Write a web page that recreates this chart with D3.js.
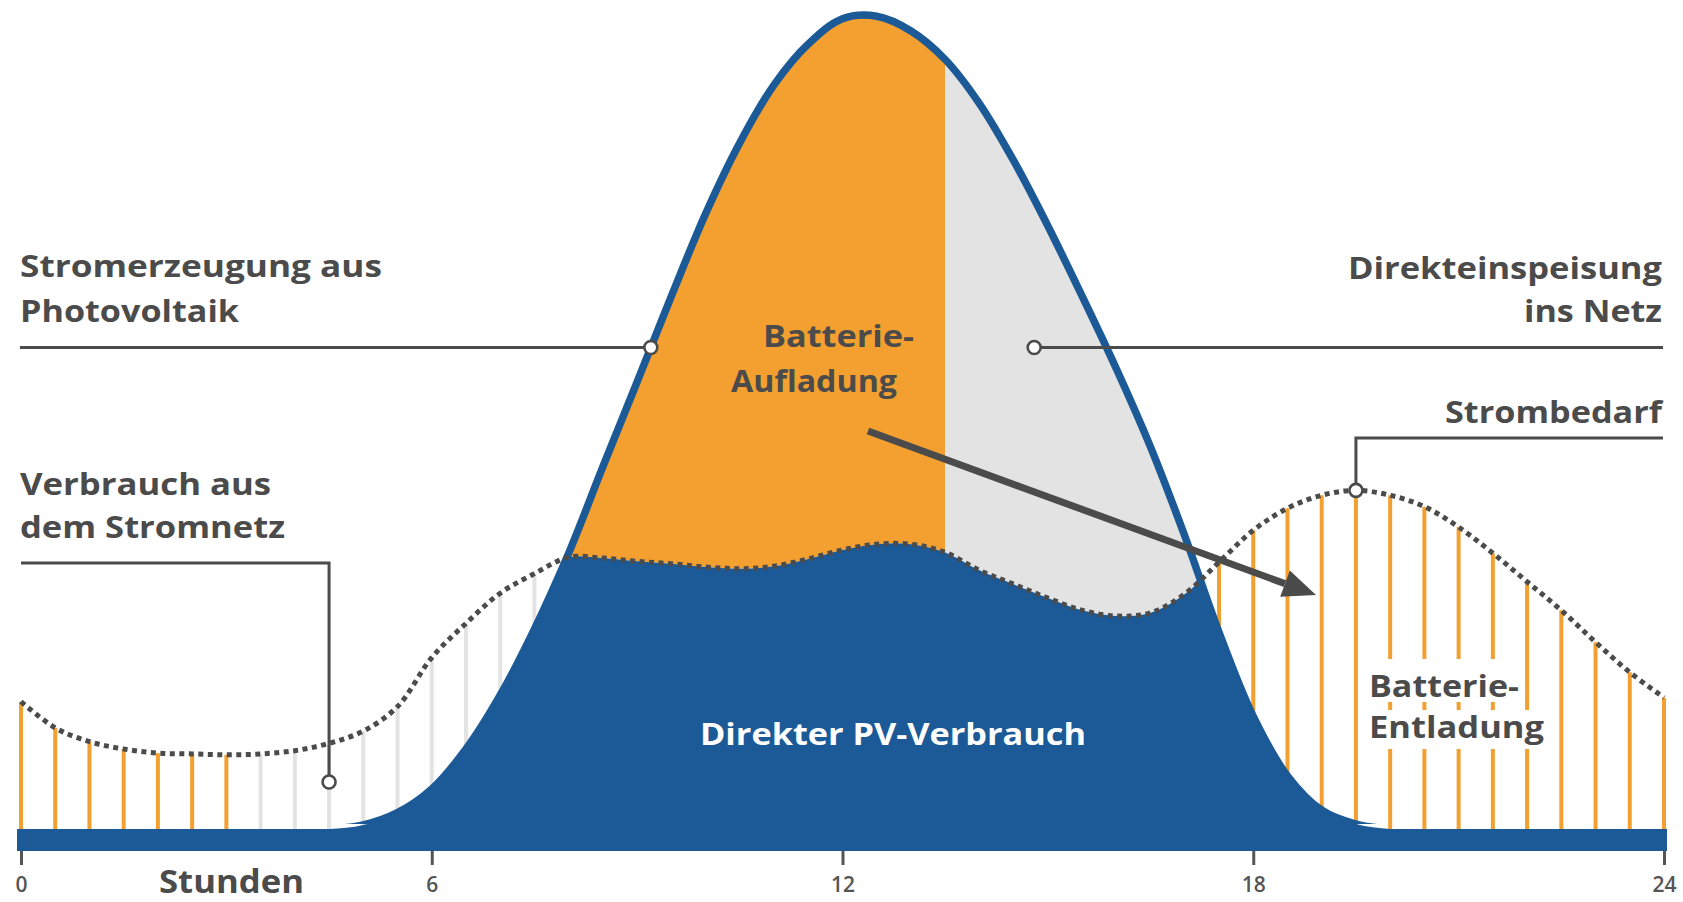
<!DOCTYPE html>
<html>
<head>
<meta charset="utf-8">
<script src="https://cdn.jsdelivr.net/npm/d3@7"></script>
<style>
  html, body { margin: 0; padding: 0; background: #ffffff; }
  svg { display: block; }
  text { font-family: "Open Sans", "Noto Sans", sans-serif; }
</style>
</head>
<body>
<svg id="chart" width="1683" height="902"></svg>
<script>
// Tagesverlauf in halben Stunden (0 bis 24 Uhr)
const hours = d3.range(0, 24.001, 0.5);

// Strombedarf des Haushalts (kW)
const demand = [
  1.56, 1.24, 1.07, 0.98, 0.93, 0.92, 0.91, 0.92, 0.96, 1.05,
  1.20, 1.50, 2.10, 2.52, 2.89, 3.13, 3.33, 3.32, 3.28, 3.25,
  3.21, 3.19, 3.22, 3.31, 3.42, 3.49, 3.49, 3.39, 3.17, 3.00,
  2.83, 2.68, 2.61, 2.65, 2.88, 3.27, 3.66, 3.93, 4.09, 4.15,
  4.09, 3.95, 3.70, 3.38, 3.03, 2.68, 2.29, 1.92, 1.61
];

// Stromerzeugung der Photovoltaikanlage (kW)
const pvGeneration = [
  0, 0, 0, 0, 0, 0, 0, 0, 0, 0,
  0.05, 0.20, 0.49, 0.98, 1.64, 2.45, 3.38, 4.44, 5.48, 6.53,
  7.54, 8.41, 9.12, 9.62, 9.93, 9.96, 9.78, 9.43, 8.89, 8.19,
  7.39, 6.53, 5.64, 4.68, 3.59, 2.41, 1.38, 0.65, 0.23, 0.06,
  0, 0, 0, 0, 0, 0, 0, 0, 0
];

const tickHours = [0, 6, 12, 18, 24];
const axisTitle = "Stunden";

// Batterie: Entladung nachts bis 3 Uhr und abends ab 17:30 Uhr
const dischargeUntil = 3;
const dischargeFrom = 17.5;
// Ab 13:30 Uhr ist die Batterie voll, der Überschuss geht ins Netz
const batteryFullHour = 13.5;

const rows = hours.map((h, i) => ({ h, dem: demand[i], pv: pvGeneration[i] }));

const COLORS = {
  blue: "#1b5a97",
  orange: "#f3a030",
  grid: "#e3e3e3",
  ink: "#4b4b4b",
  white: "#ffffff"
};

const W = 1683, H = 902;
const svg = d3.select("#chart");

const x = d3.scaleLinear().domain([0, 24]).range([21, 1664]);
const y = d3.scaleLinear().domain([0, 10]).range([829, 13]);
const curve = d3.curveCatmullRom.alpha(0.5);

const defs = svg.append("defs");

// Flächen unter bzw. über der Bedarfskurve als Schnittmasken
const belowDemand = d3.area().x(d => x(d.h)).y0(H).y1(d => y(d.dem)).curve(curve);
const aboveDemand = d3.area().x(d => x(d.h)).y0(0).y1(d => y(d.dem)).curve(curve);
defs.append("clipPath").attr("id", "clip-below").append("path").attr("d", belowDemand(rows));
defs.append("clipPath").attr("id", "clip-above").append("path").attr("d", aboveDemand(rows));
defs.append("clipPath").attr("id", "clip-charge").append("rect")
  .attr("x", 0).attr("y", 0).attr("width", x(batteryFullHour)).attr("height", H);
defs.append("clipPath").attr("id", "clip-feed").append("rect")
  .attr("x", x(batteryFullHour)).attr("y", 0).attr("width", W - x(batteryFullHour)).attr("height", H);
// Kontur nur oberhalb der Grundlinie
defs.append("clipPath").attr("id", "clip-raised").append("rect")
  .attr("x", 0).attr("y", 0).attr("width", W).attr("height", y(0) - 5);

// Senkrechte Linien bis zur Bedarfskurve
const stems = svg.append("g").attr("class", "stems");
stems.selectAll("line").data(rows).join("line")
  .attr("x1", d => x(d.h)).attr("x2", d => x(d.h))
  .attr("y1", y(0)).attr("y2", d => y(d.dem))
  .attr("stroke", d => (d.h <= dischargeUntil || d.h >= dischargeFrom) ? COLORS.orange : COLORS.grid)
  .attr("stroke-width", 4);

// Freiflächen hinter der Beschriftung der Batterie-Entladung
const dischargeLabel = svg.append("g");

const pvArea = d3.area().x(d => x(d.h)).y0(y(0)).y1(d => y(d.pv)).curve(curve);

// Überschuss: Batterie-Aufladung (orange) und Netzeinspeisung (grau)
const surplus = svg.append("g").attr("clip-path", "url(#clip-above)");
surplus.append("path").attr("d", pvArea(rows)).attr("fill", COLORS.orange)
  .attr("clip-path", "url(#clip-charge)");
surplus.append("path").attr("d", pvArea(rows)).attr("fill", COLORS.grid)
  .attr("clip-path", "url(#clip-feed)");

// Direkter PV-Verbrauch
svg.append("path").attr("d", pvArea(rows)).attr("fill", COLORS.blue)
  .attr("clip-path", "url(#clip-below)");

// PV-Erzeugungskurve
const pvLine = d3.line()
  .defined((d, i) => d.pv > 0 || (pvGeneration[i - 1] || 0) > 0 || (pvGeneration[i + 1] || 0) > 0)
  .x(d => x(d.h)).y(d => y(d.pv)).curve(curve);
const pvPath = svg.append("g").attr("clip-path", "url(#clip-raised)")
  .append("path").attr("d", pvLine(rows))
  .attr("fill", "none").attr("stroke", COLORS.blue).attr("stroke-width", 7.5)
  .attr("stroke-linejoin", "round");

// Bedarfskurve (gepunktet)
const demandLine = d3.line().x(d => x(d.h)).y(d => y(d.dem)).curve(curve);
const demandPath = svg.append("path").attr("d", demandLine(rows))
  .attr("fill", "none").attr("stroke", COLORS.ink).attr("stroke-width", 5)
  .attr("stroke-dasharray", "5 4.5");

// Grundlinie
svg.append("rect")
  .attr("x", x(0) - 4).attr("y", y(0))
  .attr("width", x(24) - x(0) + 7).attr("height", 22)
  .attr("fill", COLORS.blue);

// Zeitachse
const axis = svg.append("g").attr("transform", `translate(0,${y(0) + 22})`)
  .call(d3.axisBottom(x).tickValues(tickHours).tickFormat(d3.format("d"))
    .tickSize(14).tickSizeOuter(0).tickPadding(12));
axis.select(".domain").remove();
axis.selectAll(".tick line").attr("stroke", "#555").attr("stroke-width", 3);
axis.selectAll(".tick text").attr("fill", "#555")
  .style("font-family", '"Open Sans", sans-serif').style("font-size", "21px").style("font-weight", 600);

// Hilfsfunktion: y-Wert eines Pfades an einer x-Position
function yAtX(node, xt) {
  let lo = 0, hi = node.getTotalLength();
  for (let k = 0; k < 40; k++) {
    const mid = (lo + hi) / 2;
    if (node.getPointAtLength(mid).x < xt) lo = mid; else hi = mid;
  }
  return node.getPointAtLength((lo + hi) / 2).y;
}

// Beschriftungen
function label(g, str, px, py, opts = {}) {
  const t = g.append("text")
    .attr("x", px).attr("y", py)
    .attr("text-anchor", opts.anchor || "start")
    .attr("fill", opts.fill || COLORS.ink)
    .style("font-size", (opts.size || 30) + "px")
    .style("font-weight", 700)
    .text(str);
  if (opts.width) t.attr("textLength", opts.width).attr("lengthAdjust", "spacingAndGlyphs");
  return t;
}

const ann = svg.append("g");
const leader = (pts) => ann.append("path").attr("d", d3.line()(pts))
  .attr("fill", "none").attr("stroke", COLORS.ink).attr("stroke-width", 3);
const marker = (cx, cy) => ann.append("circle").attr("cx", cx).attr("cy", cy).attr("r", 6.5)
  .attr("fill", "#fff").attr("stroke", COLORS.ink).attr("stroke-width", 2.6);

// Stromerzeugung aus Photovoltaik
const pvMarkX = x(9.2), pvMarkY = yAtX(pvPath.node(), pvMarkX);
leader([[20, pvMarkY], [pvMarkX, pvMarkY]]);
marker(pvMarkX, pvMarkY);
label(ann, "Stromerzeugung aus", 20, 277, { width: 362 });
label(ann, "Photovoltaik", 20, 322, { width: 219 });

// Direkteinspeisung ins Netz
const feedMarkX = x(14.8);
leader([[feedMarkX, pvMarkY], [1663, pvMarkY]]);
marker(feedMarkX, pvMarkY);
label(ann, "Direkteinspeisung", 1662, 279, { anchor: "end", width: 314 });
label(ann, "ins Netz", 1662, 322, { anchor: "end", width: 138 });

// Strombedarf
const peakIdx = d3.maxIndex(demand);
const demMarkX = x(hours[peakIdx]), demMarkY = yAtX(demandPath.node(), demMarkX);
leader([[demMarkX, demMarkY], [demMarkX, 438], [1663, 438]]);
marker(demMarkX, demMarkY);
label(ann, "Strombedarf", 1662, 423, { anchor: "end", width: 217 });

// Verbrauch aus dem Stromnetz
const gridMarkX = x(4.5), gridMarkY = 782;
leader([[21, 563], [gridMarkX, 563], [gridMarkX, gridMarkY]]);
marker(gridMarkX, gridMarkY);
label(ann, "Verbrauch aus", 20, 495, { width: 251 });
label(ann, "dem Stromnetz", 20, 538, { width: 265 });

// Batterie-Aufladung mit Pfeil zur Entladung
label(ann, "Batterie-", 763, 347, { width: 151 });
label(ann, "Aufladung", 731, 392, { width: 166 });
const a0 = [868, 431], a1 = [1316, 595];
const ang = Math.atan2(a1[1] - a0[1], a1[0] - a0[0]);
const headLen = 33, headHalf = 14;
const base = [a1[0] - headLen * Math.cos(ang), a1[1] - headLen * Math.sin(ang)];
ann.append("line").attr("x1", a0[0]).attr("y1", a0[1]).attr("x2", base[0]).attr("y2", base[1])
  .attr("stroke", COLORS.ink).attr("stroke-width", 7);
ann.append("path").attr("d", d3.line()([
  a1,
  [base[0] + headHalf * Math.sin(ang), base[1] - headHalf * Math.cos(ang)],
  [base[0] - headHalf * Math.sin(ang), base[1] + headHalf * Math.cos(ang)]
]) + "Z").attr("fill", COLORS.ink);

// Direkter PV-Verbrauch
label(ann, "Direkter PV-Verbrauch", 700, 745, { fill: COLORS.white, width: 386 });

// Batterie-Entladung, mit Freifläche hinter dem Text
const dl1 = label(dischargeLabel, "Batterie-", 1369, 697, { width: 150 });
const dl2 = label(dischargeLabel, "Entladung", 1369, 738, { width: 175 });
[dl1, dl2].forEach((t, i) => {
  const b = t.node().getBBox();
  dischargeLabel.insert("rect", "text")
    .attr("x", b.x - 6).attr("y", i === 0 ? b.y - 6 : b.y + 4)
    .attr("width", b.width + 12).attr("height", i === 0 ? b.height + 2 : b.height - 2)
    .attr("fill", "#fff");
});

// Achsentitel
label(ann, axisTitle, 159, 893, { size: 32, width: 145 });
</script>
</body>
</html>
